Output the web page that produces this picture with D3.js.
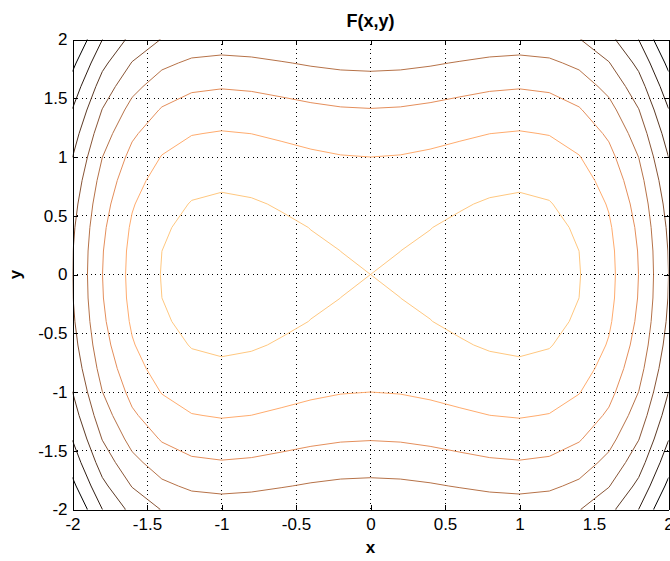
<!DOCTYPE html>
<html>
<head>
<meta charset="utf-8">
<script src="https://cdn.jsdelivr.net/npm/d3@7"></script>
<style>
  body { margin: 0; background: #fff; }
  text { font-family: "Liberation Sans", Arial, Helvetica, sans-serif; fill: #000; }
</style>
</head>
<body>
<svg id="chart" width="670" height="561"></svg>
<script>
// grid the surface was sampled on (-2:0.2:2 in both directions)
var xs = [-2, -1.8, -1.6, -1.4, -1.2, -1, -0.8, -0.6, -0.4, -0.2, 0,
          0.2, 0.4, 0.6, 0.8, 1, 1.2, 1.4, 1.6, 1.8, 2];
var ys = [-2, -1.8, -1.6, -1.4, -1.2, -1, -0.8, -0.6, -0.4, -0.2, 0,
          0.2, 0.4, 0.6, 0.8, 1, 1.2, 1.4, 1.6, 1.8, 2];
// contour levels drawn
var levels = [0, 1, 2, 3, 4, 5, 6, 7];
var xTicks = [-2, -1.5, -1, -0.5, 0, 0.5, 1, 1.5, 2];
var yTicks = [-2, -1.5, -1, -0.5, 0, 0.5, 1, 1.5, 2];

// the plotted function
function F(x, y) { return 0.5 * Math.pow(x, 4) - x * x + y * y; }

var svg = d3.select('#chart');
var x = d3.scaleLinear().domain([-2, 2]).range([72.5, 668.5]);
var y = d3.scaleLinear().domain([-2, 2]).range([509.5, 39.5]);

var nx = xs.length, ny = ys.length;
var values = [];
for (var j = 0; j < ny; j++) {
  for (var i = 0; i < nx; i++) {
    values.push(F(xs[i], ys[j]));
  }
}

// d3.contours puts sample i at grid coordinate i + 0.5
var gx = d3.scaleLinear().domain([0.5, nx - 0.5]).range([xs[0], xs[nx - 1]]);
var gy = d3.scaleLinear().domain([0.5, ny - 0.5]).range([ys[0], ys[ny - 1]]);

var contours = d3.contours().size([nx, ny]).thresholds(levels)(values);
var path = d3.geoPath(d3.geoTransform({
  point: function(px, py) { this.stream.point(x(gx(px)), y(gy(py))); }
}));

// reversed copper colormap, low level = light
function copper(t) {
  return d3.rgb(255 * Math.min(1, 1.25 * t), 255 * 0.7812 * t, 255 * 0.4975 * t);
}
var color = function(v) { return copper(1 - (v - levels[0]) / (levels[levels.length - 1] - levels[0])); };

svg.append('clipPath').attr('id', 'plot-clip')
  .append('rect')
  .attr('x', x(-2)).attr('y', y(2))
  .attr('width', x(2) - x(-2)).attr('height', y(-2) - y(2));

// dotted grid
var grid = svg.append('g').attr('shape-rendering', 'crispEdges');
grid.selectAll('line.gx').data(xTicks.slice(1, -1)).enter().append('line')
  .attr('x1', function(d) { return x(d); }).attr('x2', function(d) { return x(d); })
  .attr('y1', y(2)).attr('y2', y(-2))
  .attr('stroke', '#000').attr('stroke-dasharray', '1,3.5');
grid.selectAll('line.gy').data(yTicks.slice(1, -1)).enter().append('line')
  .attr('y1', function(d) { return y(d); }).attr('y2', function(d) { return y(d); })
  .attr('x1', x(-2)).attr('x2', x(2))
  .attr('stroke', '#000').attr('stroke-dasharray', '1,3.5');

svg.append('g').attr('clip-path', 'url(#plot-clip)')
  .selectAll('path').data(contours).enter().append('path')
  .attr('d', path)
  .attr('fill', 'none')
  .attr('stroke', function(d) { return color(d.value); })
  .attr('stroke-width', 1)
  .attr('stroke-linejoin', 'round');

// axes, ticks pointing inward on all four sides
var fmt = function(d) { return String(d); };
function styleAxis(g) {
  g.attr('font-size', 17).attr('font-family', '"Liberation Sans", Arial, sans-serif');
  g.select('.domain').attr('stroke', '#000');
  g.selectAll('.tick line').attr('stroke', '#000');
  g.attr('shape-rendering', 'crispEdges');
}
svg.append('g').attr('transform', 'translate(0,' + y(-2) + ')')
  .call(d3.axisBottom(x).tickValues(xTicks).tickFormat(fmt).tickSize(-5).tickSizeOuter(0).tickPadding(8))
  .call(styleAxis);
svg.append('g').attr('transform', 'translate(' + x(-2) + ',0)')
  .call(d3.axisLeft(y).tickValues(yTicks).tickFormat(fmt).tickSize(-5).tickSizeOuter(0).tickPadding(5))
  .call(styleAxis);
svg.append('g').attr('transform', 'translate(0,' + y(2) + ')')
  .call(d3.axisTop(x).tickValues(xTicks).tickFormat('').tickSize(-5).tickSizeOuter(0))
  .call(styleAxis);
svg.append('g').attr('transform', 'translate(' + x(2) + ',0)')
  .call(d3.axisRight(y).tickValues(yTicks).tickFormat('').tickSize(-5).tickSizeOuter(0))
  .call(styleAxis);

svg.append('text').attr('x', x(0)).attr('y', 27)
  .attr('text-anchor', 'middle').attr('font-size', 18).attr('font-weight', 'bold')
  .text('F(x,y)');
svg.append('text').attr('x', x(0)).attr('y', 553)
  .attr('text-anchor', 'middle').attr('font-size', 17).attr('font-weight', 'bold')
  .text('x');
svg.append('text').attr('transform', 'translate(21,' + y(0) + ') rotate(-90)')
  .attr('text-anchor', 'middle').attr('font-size', 17).attr('font-weight', 'bold')
  .text('y');
</script>
</body>
</html>
